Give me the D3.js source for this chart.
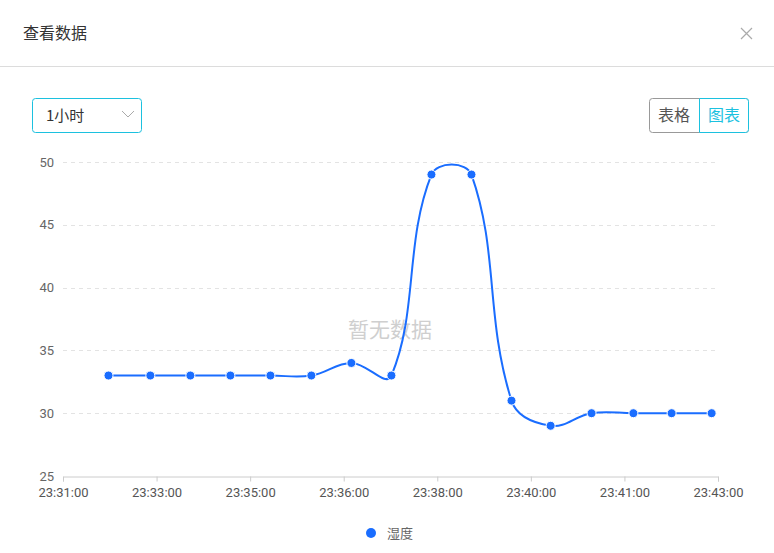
<!DOCTYPE html>
<html>
<head>
<meta charset="utf-8">
<script src="https://cdn.jsdelivr.net/npm/d3@7"></script>
<style>
  html, body { margin: 0; padding: 0; background: #fff; }
  body { width: 774px; height: 553px; overflow: hidden; font-family: Roboto, "Noto Sans CJK SC", sans-serif; }
  svg { display: block; }
</style>
</head>
<body>
<div id="chart"></div>
<script>
// humidity readings (time of day, value)
const times = ["23:31:50", "23:32:36", "23:33:20", "23:34:04", "23:34:48", "23:35:33", "23:36:17", "23:37:01",
    "23:37:45", "23:38:29", "23:39:13", "23:39:56", "23:40:41", "23:41:27", "23:42:09", "23:42:53"];
const values = [33, 33, 33, 33, 33, 33, 34, 33, 49, 49, 31, 29, 30, 30, 30, 30];
const yTicks = [25, 30, 35, 40, 45, 50];
const xTickLabels = ["23:31:00", "23:33:00", "23:35:00", "23:36:00", "23:38:00", "23:40:00", "23:41:00", "23:43:00"];
const domainStart = "23:31:00", domainEnd = "23:43:00";
const seriesName = "湿度";

const W = 774, H = 553;
const margin = { top: 162, right: 56, bottom: 77, left: 63 };
const blue = "#1a6dff", cyan = "#1cc1df";

const parse = d3.timeParse("%H:%M:%S");
const data = times.map((t, i) => ({ t: parse(t), v: values[i] }));

const svg = d3.select("#chart").append("svg").attr("width", W).attr("height", H);

// dialog header
svg.append("text").attr("x", 23).attr("y", 39).text("查看数据")
    .style("font-family", "'Noto Sans CJK SC'").style("font-size", "16px").style("fill", "#333");
svg.append("path").attr("d", "M741,28L752,39M752,28L741,39")
    .attr("stroke", "#aaa").attr("stroke-width", 1.2).attr("fill", "none");
svg.append("line").attr("x1", 0).attr("x2", W).attr("y1", 66.5).attr("y2", 66.5)
    .attr("stroke", "#dcdcdc");

// range select
svg.append("rect").attr("x", 32.5).attr("y", 98.5).attr("width", 109).attr("height", 34).attr("rx", 3)
    .attr("fill", "#fff").attr("stroke", cyan);
svg.append("text").attr("x", 46).attr("y", 121).text("1小时")
    .style("font-family", "'Noto Sans CJK SC'").style("font-size", "15px").style("fill", "#333");
svg.append("path").attr("d", "M122,111L128,117L134,111").attr("fill", "none").attr("stroke", "#aaa");

// table / chart toggle
svg.append("rect").attr("x", 649.5).attr("y", 98.5).attr("width", 99).attr("height", 34).attr("rx", 3)
    .attr("fill", "#fff").attr("stroke", "#999");
svg.append("rect").attr("x", 699.5).attr("y", 98.5).attr("width", 49).attr("height", 34).attr("rx", 3)
    .attr("fill", "#fff").attr("stroke", cyan);
svg.append("rect").attr("x", 699.5).attr("y", 98.5).attr("width", 10).attr("height", 34)
    .attr("fill", "#fff").attr("stroke", "none");
svg.append("path").attr("d", "M699.5,98.5V132.5M699.5,98.5H710M699.5,132.5H710").attr("stroke", cyan).attr("fill", "none");
svg.append("text").attr("x", 674).attr("y", 121).attr("text-anchor", "middle").text("表格")
    .style("font-family", "'Noto Sans CJK SC'").style("font-size", "16px").style("fill", "#555");
svg.append("text").attr("x", 724).attr("y", 121).attr("text-anchor", "middle").text("图表")
    .style("font-family", "'Noto Sans CJK SC'").style("font-size", "16px").style("fill", cyan);

// scales
const x = d3.scaleTime()
    .domain([parse(domainStart), parse(domainEnd)])
    .range([margin.left, W - margin.right]);
const y = d3.scaleLinear().domain([25, 50]).range([H - margin.bottom, margin.top]);

const xTickVals = xTickLabels.map((_, i) =>
    new Date(+x.domain()[0] + i * (x.domain()[1] - x.domain()[0]) / (xTickLabels.length - 1)));

// grid
svg.append("g").selectAll("line").data(yTicks.slice(1)).join("line")
    .attr("x1", margin.left).attr("x2", W - margin.right)
    .attr("y1", d => Math.round(y(d)) + 0.5).attr("y2", d => Math.round(y(d)) + 0.5)
    .attr("stroke", "#e3e3e3").attr("stroke-dasharray", "4,4");

// y labels
svg.append("g").selectAll("text").data(yTicks).join("text")
    .attr("x", 54).attr("y", d => y(d) + 4.5).attr("text-anchor", "end")
    .text(d => d).style("font-size", "13px").style("fill", "#666");

// x axis
const xAxis = svg.append("g").attr("transform", `translate(0,${Math.round(y(25)) + 0.5})`)
    .call(d3.axisBottom(x).tickValues(xTickVals).tickSize(5).tickPadding(6)
        .tickFormat((d, i) => xTickLabels[i]));
xAxis.select(".domain").attr("stroke", "#ccc");
xAxis.selectAll(".tick line").attr("stroke", "#ccc");
xAxis.selectAll(".tick text").style("font-size", "13px").style("fill", "#555")
    .style("font-family", "Roboto, sans-serif");

// watermark
svg.append("text").attr("x", 390).attr("y", 337).attr("text-anchor", "middle").text("暂无数据")
    .style("font-family", "'Noto Sans CJK SC'").style("font-size", "21px").style("fill", "#cfcfcf");

// smoothed line (echarts-style bezier smoothing)
function smoothPath(pts, smooth) {
    const p = d3.path();
    const cps = pts.map((pt, i) => {
        const prev = pts[i - 1] || pt, next = pts[i + 1] || pt;
        const vx = next[0] - prev[0], vy = next[1] - prev[1];
        const d0 = Math.hypot(pt[0] - prev[0], pt[1] - prev[1]);
        const d1 = Math.hypot(next[0] - pt[0], next[1] - pt[1]);
        const s = d0 + d1 || 1;
        return {
            before: [pt[0] - vx * smooth * d0 / s, pt[1] - vy * smooth * d0 / s],
            after: [pt[0] + vx * smooth * d1 / s, pt[1] + vy * smooth * d1 / s]
        };
    });
    p.moveTo(pts[0][0], pts[0][1]);
    for (let i = 1; i < pts.length; i++) {
        const a = cps[i - 1].after, b = cps[i].before;
        p.bezierCurveTo(a[0], a[1], b[0], b[1], pts[i][0], pts[i][1]);
    }
    return p.toString();
}

const pts = data.map(d => [x(d.t), y(d.v)]);
svg.append("path").attr("d", smoothPath(pts, 0.4))
    .attr("fill", "none").attr("stroke", blue).attr("stroke-width", 2);

svg.append("g").selectAll("circle").data(data).join("circle")
    .attr("cx", d => x(d.t)).attr("cy", d => y(d.v)).attr("r", 4.5)
    .attr("fill", blue).attr("stroke", "#fff").attr("stroke-width", 1);

// legend
svg.append("circle").attr("cx", 371).attr("cy", 533).attr("r", 5).attr("fill", blue);
svg.append("text").attr("x", 387).attr("y", 538).text(seriesName)
    .style("font-family", "'Noto Sans CJK SC'").style("font-size", "13px").style("fill", "#666");
</script>
</body>
</html>
